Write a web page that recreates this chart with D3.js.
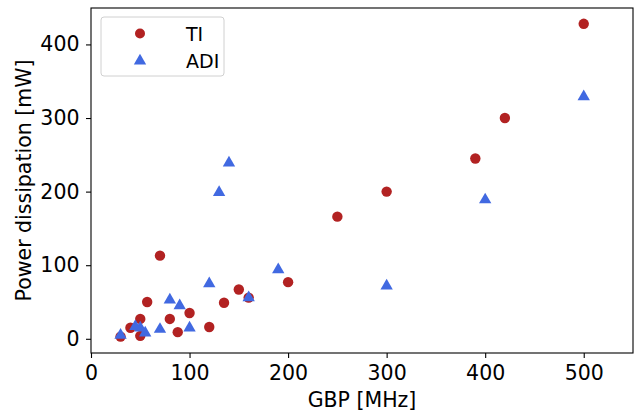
<!DOCTYPE html>
<html><head><meta charset="utf-8">
<script src="https://cdn.jsdelivr.net/npm/d3@7"></script>
<style>body{margin:0;background:#fff}svg{display:block}text{font-family:"DejaVu Sans",sans-serif}</style>
</head><body><svg id="c" width="634" height="414"></svg>
<script>
const tiGBP = [500,420,390,300,250,200,160,150,135,120,100,88,80,70,57,50,50,40,30];
const tiPower = [428,300,245,200,166,77,56,67,49,16,35,9,27,113,50,27,4,15,3];
const adiGBP = [500,400,300,190,160,140,130,120,100,90,80,70,55,50,45,30];
const adiPower = [330,190,73,95,57,240,200,76,16,46,54,14,9,16,18,6];
const xTicks = [0,100,200,300,400,500];
const yTicks = [0,100,200,300,400];
const seriesNames = ["TI","ADI"];

const svg = d3.select("#c");
const L=91,R=633,T=8,B=353;
const x = d3.scaleLinear().domain([0,550]).range([L,R]);
const y = d3.scaleLinear().domain([-19.3,449.5]).range([B,T]);
const fs = 20.5;

const gx = svg.append("g").attr("transform",`translate(0,${B})`)
  .call(d3.axisBottom(x).tickValues(xTicks).tickSize(5).tickPadding(7.5));
const gy = svg.append("g").attr("transform",`translate(${L},0)`)
  .call(d3.axisLeft(y).tickValues(yTicks).tickSize(5).tickPadding(6.5));
[gx,gy].forEach(g=>{
  g.select(".domain").remove();
  g.selectAll("line").attr("stroke","#000").attr("stroke-width",1.1);
  g.selectAll("text").attr("font-size",fs).attr("fill","#000").attr("font-family","DejaVu Sans");
});
svg.append("rect").attr("x",L).attr("y",T).attr("width",R-L).attr("height",B-T)
  .attr("fill","none").attr("stroke","#000").attr("stroke-width",1.1);

const tri = d3.symbol().type(d3.symbolTriangle).size(66);
svg.append("g").selectAll("circle").data(tiGBP.map((g,i)=>[g,tiPower[i]])).join("circle")
  .attr("cx",d=>x(d[0])).attr("cy",d=>y(d[1])).attr("r",5.2).attr("fill","#b22222");
svg.append("g").selectAll("path").data(adiGBP.map((g,i)=>[g,adiPower[i]])).join("path")
  .attr("d",tri).attr("transform",d=>`translate(${x(d[0])},${y(d[1])+0.8})`).attr("fill","#4169e1");

svg.append("text").attr("x",(L+R)/2).attr("y",407).attr("text-anchor","middle")
  .attr("font-size",fs).text("GBP [MHz]");
svg.append("text").attr("transform",`translate(31,${(T+B)/2}) rotate(-90)`).attr("text-anchor","middle")
  .attr("font-size",fs).text("Power dissipation [mW]");

const lg = svg.append("g");
lg.append("rect").attr("x",101).attr("y",17).attr("width",123).attr("height",59).attr("rx",3)
  .attr("fill","#fff").attr("fill-opacity",0.8).attr("stroke","#d0d0d0").attr("stroke-width",1);
lg.append("circle").attr("cx",140).attr("cy",33.5).attr("r",5).attr("fill","#b22222");
lg.append("path").attr("d",tri).attr("transform","translate(140,61)").attr("fill","#4169e1");
lg.append("text").attr("x",186).attr("y",40.5).attr("font-size",19).text(seriesNames[0]);
lg.append("text").attr("x",186).attr("y",67.5).attr("font-size",19).text(seriesNames[1]);
</script></body></html>
